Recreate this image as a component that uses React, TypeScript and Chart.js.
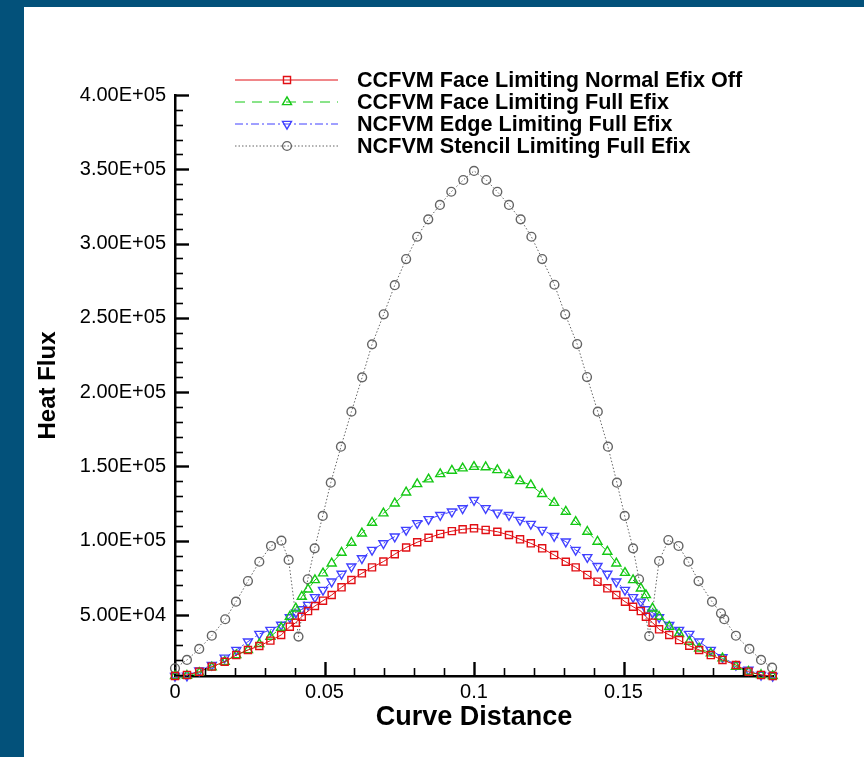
import React, { useEffect, useRef } from 'react';
import { Chart, registerables } from 'chart.js';

Chart.register(...registerables);

// ---------------- data ----------------
const seriesNames = [
  'CCFVM Face Limiting Normal Efix Off',
  'CCFVM Face Limiting Full Efix',
  'NCFVM Edge Limiting Full Efix',
  'NCFVM Stencil Limiting Full Efix',
];

// curve distance of the face/edge based samples
const xNodes = [
  0.0000, 0.0040, 0.0081, 0.0123, 0.0166, 0.0205, 0.0244, 0.0282, 0.0319, 0.0355,
  0.0384, 0.0404, 0.0424, 0.0445, 0.0468, 0.0495, 0.0524, 0.0557, 0.0590, 0.0625,
  0.0659, 0.0697, 0.0735, 0.0773, 0.0810, 0.0848, 0.0887, 0.0926, 0.0962, 0.1000,
  0.1039, 0.1078, 0.1117, 0.1154, 0.1190, 0.1228, 0.1268, 0.1307, 0.1340, 0.1379,
  0.1413, 0.1446, 0.1476, 0.1505, 0.1532, 0.1558, 0.1575, 0.1597, 0.1619, 0.1653,
  0.1686, 0.1720, 0.1753, 0.1792, 0.1831, 0.1876, 0.1918, 0.1960, 0.1999,
];

const faceNormalEfixOff = [
  9000, 9700, 11900, 15300, 18600, 23100, 26500, 29200, 32800, 36600,
  42200, 44900, 48900, 52700, 56100, 59700, 63500, 68700, 73600, 78100,
  82100, 86000, 91000, 95500, 99000, 102000, 104600, 106500, 107700, 108400,
  107300, 106100, 103900, 101000, 98300, 94900, 90400, 85900, 82100, 77000,
  72500, 68000, 63500, 59000, 55600, 52700, 48900, 44900, 40400, 36600,
  33200, 29400, 26500, 23100, 19800, 16400, 11900, 9700, 9000,
];

const faceFullEfix = [
  9000, 9200, 11200, 14900, 18600, 23100, 26500, 30500, 35500, 41500,
  48900, 54500, 62400, 67300, 73600, 78100, 84800, 92000, 98700, 105000,
  112200, 118500, 125200, 132600, 138200, 141400, 144900, 147200, 148800, 149800,
  149600, 147600, 144300, 140200, 137500, 131500, 125600, 119600, 112800, 106100,
  99400, 92700, 84800, 78500, 73600, 68000, 63500, 54500, 48900, 42200,
  37700, 32100, 27600, 24300, 20900, 15300, 11900, 9700, 9000,
];

const edgeFullEfix = [
  9000, 9200, 12600, 16400, 21300, 26500, 32100, 37300, 40000, 43400,
  48500, 51600, 53900, 56800, 62000, 66900, 72500, 77700, 82600, 88200,
  93800, 98300, 102800, 107300, 111800, 114500, 117300, 119600, 121800, 127400,
  121900, 118900, 117300, 114000, 111300, 107300, 103200, 99400, 93800, 88900,
  83000, 77700, 72500, 66900, 62000, 59000, 53900, 51600, 48500, 43300,
  40000, 37300, 32100, 26500, 21600, 16400, 13100, 9700, 9000,
];

// curve distance of the stencil based samples
const xStencil = [
  0.0000, 0.0040, 0.0081, 0.0123, 0.0168, 0.0204, 0.0244, 0.0282, 0.0321, 0.0356,
  0.0380, 0.0413, 0.0444, 0.0467, 0.0494, 0.0521, 0.0555, 0.0590, 0.0626, 0.0659,
  0.0698, 0.0735, 0.0773, 0.0810, 0.0847, 0.0886, 0.0924, 0.0964, 0.1000,
  0.1041, 0.1078, 0.1117, 0.1156, 0.1192, 0.1228, 0.1269, 0.1305, 0.1345, 0.1378,
  0.1414, 0.1448, 0.1478, 0.1504, 0.1532, 0.1552, 0.1586, 0.1619, 0.1650, 0.1684,
  0.1717, 0.1751, 0.1796, 0.1826, 0.1837, 0.1876, 0.1921, 0.1960, 0.1997,
];

const stencilFullEfix = [
  14200, 19800, 27200, 36100, 47200, 59000, 72900, 85900, 96500, 100100,
  87100, 35500, 74100, 94900, 116700, 139100, 163300, 186900, 210000, 232200,
  252400, 272000, 289600, 304600, 316300, 326000, 334900, 342800, 348900,
  342800, 334900, 326000, 316300, 304600, 289600, 272300, 252400, 232400, 210200,
  186900, 163300, 139100, 116700, 94900, 74100, 35900, 86400, 100500, 96500,
  85900, 72900, 59000, 51200, 47200, 36100, 27200, 19800, 14600,
];

const xTickValues = [0, 0.05, 0.1, 0.15];
const yTickValues = [50000, 100000, 150000, 200000, 250000, 300000, 350000, 400000];
const xRange = [0, 0.2];
const yRange = [9000, 400000];
const xAxisTitle = 'Curve Distance';
const yAxisTitle = 'Heat Flux';

// ---------------- styling ----------------
const W = 864;
const H = 757;
const PLOT = { left: 175, right: 773, top: 95, bottom: 676 };
const FONT = '"Liberation Sans", Arial, Helvetica, sans-serif';
const RED = 'rgb(225,15,20)';
const GREEN = 'rgb(20,200,20)';
const BLUE = 'rgb(65,65,255)';
const GRAY = 'rgb(100,100,100)';
const FRAME_BLUE = '#03517a';

function fmtSci(v: number): string {
  const [m, e] = v.toExponential(2).split('e');
  const sign = e[0] === '-' ? '-' : '+';
  const digits = e.replace(/^[+-]/, '').padStart(2, '0');
  return `${m}E${sign}${digits}`;
}

function fmtX(v: number): string {
  return String(parseFloat(v.toFixed(3)));
}

function drawMarker(ctx: CanvasRenderingContext2D, style: string, x: number, y: number, r: number, rotDeg: number) {
  ctx.beginPath();
  if (style === 'rect') {
    const s = Math.SQRT1_2 * r;
    ctx.rect(x - s, y - s, 2 * s, 2 * s);
  } else if (style === 'triangle') {
    let rad = (rotDeg * Math.PI) / 180;
    ctx.moveTo(x + Math.sin(rad) * r, y - Math.cos(rad) * r);
    rad += (2 * Math.PI) / 3;
    ctx.lineTo(x + Math.sin(rad) * r, y - Math.cos(rad) * r);
    rad += (2 * Math.PI) / 3;
    ctx.lineTo(x + Math.sin(rad) * r, y - Math.cos(rad) * r);
    ctx.closePath();
  } else {
    ctx.arc(x, y, r, 0, Math.PI * 2);
  }
  ctx.stroke();
}

const inwardTicks = {
  id: 'inwardTicks',
  afterDraw(chart: any) {
    const { ctx, chartArea: a, scales } = chart;
    const xs = scales.x;
    const ys = scales.y;
    ctx.save();
    ctx.strokeStyle = '#000';
    // x axis: minor every 0.01, major every 0.05
    for (let k = 1; k < 20; k++) {
      const v = k / 100;
      const major = k % 5 === 0;
      const px = Math.round(xs.getPixelForValue(v)) + 0.5;
      ctx.lineWidth = major ? 2.4 : 1.6;
      ctx.beginPath();
      ctx.moveTo(px, a.bottom);
      ctx.lineTo(px, a.bottom - (major ? 14 : 8));
      ctx.stroke();
    }
    // y axis: minor every 10000, major every 50000
    for (let k = 1; k <= 40; k++) {
      const v = k * 10000;
      if (v <= yRange[0]) continue;
      const major = k % 5 === 0;
      const py = Math.round(ys.getPixelForValue(v)) + 0.5;
      ctx.lineWidth = major ? 2.4 : 1.6;
      ctx.beginPath();
      ctx.moveTo(a.left, py);
      ctx.lineTo(a.left + (major ? 14 : 8), py);
      ctx.stroke();
    }
    ctx.restore();
  },
};

const LEGEND = { lineX0: 235, lineX1: 338, markerX: 287, textX: 357, top: 80, row: 22 };

const tecLegend = {
  id: 'tecLegend',
  afterDraw(chart: any) {
    const { ctx } = chart;
    chart.data.datasets.forEach((ds: any, i: number) => {
      const yy = LEGEND.top + i * LEGEND.row;
      ctx.save();
      ctx.strokeStyle = ds.borderColor;
      ctx.lineWidth = ds.borderWidth;
      ctx.setLineDash(ds.borderDash || []);
      ctx.beginPath();
      ctx.moveTo(LEGEND.lineX0, yy);
      ctx.lineTo(LEGEND.lineX1, yy);
      ctx.stroke();
      ctx.setLineDash([]);
      ctx.strokeStyle = ds.pointBorderColor;
      ctx.lineWidth = ds.pointBorderWidth;
      drawMarker(ctx, ds.pointStyle, LEGEND.markerX, yy, ds.pointRadius, ds.pointRotation || 0);
      ctx.fillStyle = '#000';
      ctx.font = `bold 21.6px ${FONT}`;
      ctx.textBaseline = 'middle';
      ctx.textAlign = 'left';
      ctx.fillText(ds.label, LEGEND.textX, yy + 1);
      ctx.restore();
    });
  },
};

function makeSeries(label: string, xs: number[], ys: number[], color: string, dash: number[], style: string, radius: number, rotation: number) {
  return {
    label,
    data: xs.map((x, i) => ({ x, y: ys[i] })),
    borderColor: color,
    borderWidth: 1,
    borderDash: dash,
    pointStyle: style,
    pointRadius: radius,
    pointRotation: rotation,
    pointBorderColor: color,
    pointBackgroundColor: 'rgba(0,0,0,0)',
    pointBorderWidth: 1.4,
    tension: 0,
    clip: false,
  };
}

export default function App() {
  const canvasRef = useRef<HTMLCanvasElement | null>(null);

  useEffect(() => {
    if (!canvasRef.current) return;
    const chart = new Chart(canvasRef.current, {
      type: 'line',
      data: {
        datasets: [
          makeSeries(seriesNames[0], xNodes, faceNormalEfixOff, RED, [], 'rect', 5, 0),
          makeSeries(seriesNames[1], xNodes, faceFullEfix, GREEN, [10, 7], 'triangle', 5.2, 0),
          makeSeries(seriesNames[2], xNodes, edgeFullEfix, BLUE, [8, 3, 2, 3], 'triangle', 5.2, 180),
          makeSeries(seriesNames[3], xStencil, stencilFullEfix, GRAY, [1.5, 2], 'circle', 4.4, 0),
        ] as any,
      },
      options: {
        responsive: false,
        animation: false,
        events: [],
        layout: {
          padding: { left: 0, top: PLOT.top, right: W - PLOT.right, bottom: 0 },
        },
        plugins: {
          legend: { display: false },
          tooltip: { enabled: false },
          title: { display: false },
        },
        scales: {
          x: {
            type: 'linear',
            min: xRange[0],
            max: xRange[1],
            afterFit: (s: any) => { s.height = H - PLOT.bottom; },
            afterBuildTicks: (s: any) => { s.ticks = xTickValues.map((v) => ({ value: v })); },
            grid: { display: false, drawTicks: false },
            border: { display: true, color: '#000', width: 2.5 },
            ticks: {
              autoSkip: false,
              maxRotation: 0,
              padding: 4,
              color: '#000',
              font: { family: FONT, size: 20 },
              callback: (v: any) => fmtX(Number(v)),
            },
            title: {
              display: true,
              text: xAxisTitle,
              color: '#000',
              font: { family: FONT, size: 27, weight: 'bold' },
              padding: { top: 0, bottom: 23 },
            },
          },
          y: {
            type: 'linear',
            min: yRange[0],
            max: yRange[1],
            afterFit: (s: any) => { s.width = PLOT.left; },
            afterBuildTicks: (s: any) => { s.ticks = yTickValues.map((v) => ({ value: v })); },
            grid: { display: false, drawTicks: false },
            border: { display: true, color: '#000', width: 2.5 },
            ticks: {
              autoSkip: false,
              padding: 9,
              color: '#000',
              font: { family: FONT, size: 20 },
              callback: (v: any) => fmtSci(Number(v)),
            },
            title: {
              display: true,
              text: yAxisTitle,
              color: '#000',
              font: { family: FONT, size: 24, weight: 'bold' },
              padding: { top: 34, bottom: 0 },
            },
          },
        },
      } as any,
      plugins: [inwardTicks, tecLegend],
    });
    return () => chart.destroy();
  }, []);

  return (
    <div style={{ position: 'fixed', left: 0, top: 0, width: W, height: H, background: FRAME_BLUE, overflow: 'hidden' }}>
      <div style={{ position: 'absolute', left: 24, top: 7, right: 0, bottom: 0, background: '#fff' }} />
      <canvas
        ref={canvasRef}
        width={W}
        height={H}
        style={{ position: 'absolute', left: 0, top: 0, width: W, height: H }}
      />
    </div>
  );
}
